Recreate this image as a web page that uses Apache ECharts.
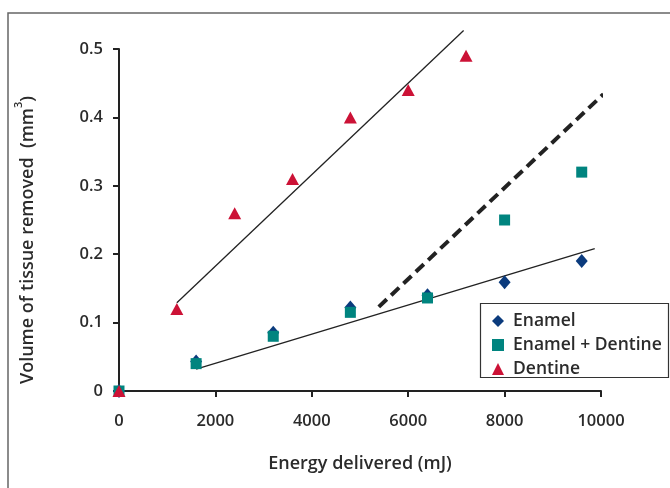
<!DOCTYPE html>
<html>
<head>
<meta charset="utf-8">
<script src="https://cdn.jsdelivr.net/npm/echarts@6/dist/echarts.min.js"></script>
<style>
  html, body { margin: 0; padding: 0; background: #fff; }
  #chart { width: 670px; height: 488px; }
</style>
</head>
<body>
<div id="chart"></div>
<script>
// 数据
const energyEnamel = [0, 1600, 3200, 4800, 6400, 8000, 9600]
const enamel = [0, 0.043, 0.085, 0.122, 0.14, 0.159, 0.19]
const enamelDentine = [0, 0.04, 0.08, 0.115, 0.136, 0.25, 0.32]
const energyDentine = [0, 1200, 2400, 3600, 4800, 6000, 7200]
const dentine = [0, 0.12, 0.26, 0.31, 0.40, 0.44, 0.49]

// 趋势线端点
const trendEnamelX = [1600, 9870]
const trendEnamelY = [0.032, 0.208]
const trendDentineX = [1200, 7150]
const trendDentineY = [0.129, 0.527]
const trendDashedX = [5390, 10050]
const trendDashedY = [0.123, 0.434]

const xTicks = [0, 2000, 4000, 6000, 8000, 10000]
const yTicks = [0, 0.1, 0.2, 0.3, 0.4, 0.5]

const FONT = 'Open Sans, sans-serif'
const TXT = '#2b2b2b'

const zip = (xs, ys) => xs.map((x, i) => [x, ys[i]])

const trend = (name, xs, ys, style) => ({
  name,
  type: 'line',
  data: zip(xs, ys),
  showSymbol: false,
  symbol: 'none',
  clip: false,
  silent: true,
  z: 1,
  lineStyle: style
})

const chart = echarts.init(document.getElementById('chart'))

chart.setOption({
  animation: false,
  grid: { left: 119, right: 69, top: 49, bottom: 97 },
  graphic: [
    {
      type: 'rect',
      shape: { x: 8, y: 13, width: 700, height: 520 },
      style: { fill: 'none', stroke: '#666', lineWidth: 1.5 },
      silent: true
    },
    {
      type: 'rect',
      shape: { x: 480.5, y: 303.5, width: 188, height: 74 },
      style: { fill: '#fff', stroke: '#333', lineWidth: 1.2 },
      silent: true,
      z: 5
    }
  ],
  legend: {
    data: ['Enamel', 'Enamel + Dentine', 'Dentine'],
    orient: 'vertical',
    left: 487,
    top: 307,
    itemGap: 6,
    itemWidth: 12,
    itemHeight: 12,
    z: 10,
    textStyle: { fontFamily: FONT, fontSize: 17.5, fontWeight: 600, color: TXT, padding: [0, 0, 0, 4] }
  },
  xAxis: {
    type: 'value',
    min: 0,
    max: 10000,
    interval: 2000,
    name: 'Energy delivered (mJ)',
    nameLocation: 'middle',
    nameGap: 64,
    nameTextStyle: { fontFamily: FONT, fontSize: 18, fontWeight: 600, color: TXT },
    axisLine: { show: true, lineStyle: { color: '#222', width: 2 } },
    axisTick: { show: true, length: 6, lineStyle: { color: '#222', width: 2 } },
    axisLabel: {
      fontFamily: FONT, fontSize: 16.5, fontWeight: 600, color: TXT, margin: 22,
      formatter: v => xTicks.includes(v) ? String(v) : ''
    },
    splitLine: { show: false }
  },
  yAxis: {
    type: 'value',
    min: 0,
    max: 0.5,
    interval: 0.1,
    name: '{t|Volume of tissue removed  (mm}{s|3}{t|)}',
    nameLocation: 'middle',
    nameGap: 82,
    nameTextStyle: {
      padding: [0, 40, 0, 0],
      rich: {
        t: { fontFamily: FONT, fontSize: 18, fontWeight: 600, color: TXT, lineHeight: 24, verticalAlign: 'bottom' },
        s: { fontFamily: FONT, fontSize: 11, fontWeight: 600, color: TXT, lineHeight: 24, verticalAlign: 'top' }
      }
    },
    axisLine: { show: true, lineStyle: { color: '#222', width: 2 } },
    axisTick: { show: true, length: 6, lineStyle: { color: '#222', width: 2 } },
    axisLabel: {
      fontFamily: FONT, fontSize: 16.5, fontWeight: 600, color: TXT, margin: 16,
      formatter: v => {
        const t = yTicks.find(y => Math.abs(y - v) < 1e-9)
        return t === undefined ? '' : (t === 0 ? '0' : t.toFixed(1))
      }
    },
    splitLine: { show: false }
  },
  series: [
    trend('trendDentine', trendDentineX, trendDentineY, { color: '#222', width: 1.3 }),
    trend('trendEnamel', trendEnamelX, trendEnamelY, { color: '#222', width: 1.3 }),
    trend('trendDashed', trendDashedX, trendDashedY, { color: '#222', width: 4, type: [11, 6] }),
    {
      name: 'Enamel',
      type: 'scatter',
      data: zip(energyEnamel, enamel),
      symbol: 'diamond',
      symbolSize: [12, 14],
      clip: false,
      z: 3,
      itemStyle: { color: '#0b3b7d', opacity: 1 }
    },
    {
      name: 'Enamel + Dentine',
      type: 'scatter',
      data: zip(energyEnamel, enamelDentine),
      symbol: 'rect',
      symbolSize: 11,
      clip: false,
      z: 4,
      itemStyle: { color: '#00847f', opacity: 1 }
    },
    {
      name: 'Dentine',
      type: 'scatter',
      data: zip(energyDentine, dentine),
      symbol: 'triangle',
      symbolSize: [13, 12],
      clip: false,
      z: 5,
      itemStyle: { color: '#cc1236', opacity: 1 }
    }
  ]
})
</script>
</body>
</html>
